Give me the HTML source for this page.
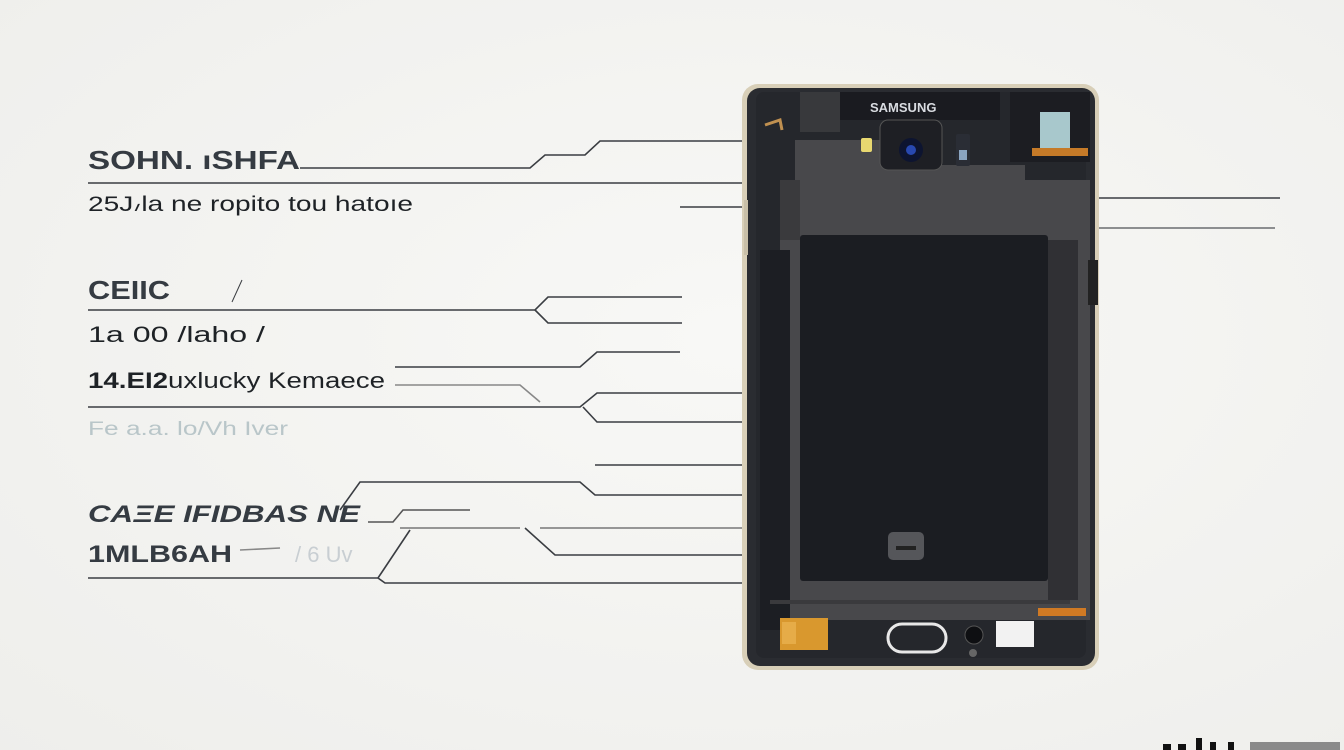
<!DOCTYPE html>
<html><head><meta charset="utf-8"><style>
html,body{margin:0;padding:0;width:1344px;height:750px;overflow:hidden;background:#f1f1ef}
svg{display:block}
text{font-family:"Liberation Sans",sans-serif}
</style></head><body>
<svg width="1344" height="750" viewBox="0 0 1344 750" xmlns="http://www.w3.org/2000/svg">
<defs>
<radialGradient id="bg" cx="0.55" cy="0.45" r="0.8"><stop offset="0" stop-color="#f8f8f6"/><stop offset="1" stop-color="#eeeeeb"/></radialGradient>
</defs>
<rect width="1344" height="750" fill="url(#bg)"/>

<g fill="none" stroke="#3a3d42" stroke-width="1.6">
<path d="M300,168 L530,168 L545,155 L585,155 L600,141 L745,141"/>
<path d="M88,183 L745,183"/>
<path d="M680,207 L745,207"/>
<path d="M1095,198 L1280,198"/>
<path d="M1095,228 L1275,228" stroke="#6a6d70"/>
<path d="M232,302 L242,280" stroke-width="1"/>
<path d="M88,310 L535,310 L548,297 L682,297"/>
<path d="M535,310 L548,323 L682,323"/>
<path d="M395,367 L580,367 L597,352 L680,352"/>
<path d="M395,385 L520,385 L540,402" stroke="#888"/>
<path d="M88,407 L580,407 L597,393 L745,393"/>
<path d="M583,407 L597,422 L745,422"/>
<path d="M595,465 L745,465"/>
<path d="M340,510 L360,482 L580,482 L595,495 L745,495"/>
<path d="M368,522 L393,522 L403,510 L470,510" stroke="#555"/>
<path d="M400,528 L520,528" stroke="#777"/>
<path d="M540,528 L745,528" stroke="#777"/>
<path d="M525,528 L555,555 L745,555"/>
<path d="M88,578 L378,578 L410,530" />
<path d="M378,578 L385,583 L745,583"/>
<path d="M240,550 L280,548" stroke="#888"/>
</g>

<g fill="#353b42">
<text x="88" y="169" font-size="26" font-weight="bold" textLength="212" lengthAdjust="spacingAndGlyphs">SOHN. ıSHFA</text>
<text x="88" y="211" font-size="21" fill="#1e2226" textLength="325" lengthAdjust="spacingAndGlyphs">25J៸la ne ropito tou hatoıe</text>
<text x="88" y="299" font-size="26" font-weight="bold" textLength="82" lengthAdjust="spacingAndGlyphs">CEIIC</text>
<text x="88" y="342" font-size="22" fill="#1e2226" textLength="177" lengthAdjust="spacingAndGlyphs">1a 00 /laho /</text>
<text x="88" y="388" font-size="22" fill="#1e2226" textLength="297" lengthAdjust="spacingAndGlyphs"><tspan font-weight="bold">14.EI2</tspan>uxlucky Kemaece</text>
<text x="88" y="435" font-size="19" fill="#b9c6c9" textLength="200" lengthAdjust="spacingAndGlyphs">Fe a.a. lo/Vh Iver</text>
<text x="88" y="522" font-size="24" font-weight="bold" font-style="italic" textLength="272" lengthAdjust="spacingAndGlyphs">CAΞE IFIDBAS NE</text>
<text x="88" y="562" font-size="24" font-weight="bold" textLength="144" lengthAdjust="spacingAndGlyphs">1MLB6AH</text>
<text x="295" y="562" font-size="22" fill="#c8ced2">/ 6 Uv</text>
</g>

<!-- phone -->
<rect x="742" y="84" width="357" height="586" rx="16" fill="#d8cfb8"/>
<rect x="747" y="88" width="348" height="578" rx="13" fill="#2a2c31"/>
<rect x="756" y="92" width="330" height="566" rx="8" fill="#25272c"/>
<path d="M795,140 L895,140 L895,165 L1025,165 L1025,180 L1090,180 L1090,620 L780,620 L780,240 L795,235 Z" fill="#48484b"/>
<rect x="780" y="180" width="20" height="60" fill="#3a3a3d"/>
<rect x="760" y="250" width="30" height="380" fill="#1c1e23"/>
<rect x="840" y="92" width="160" height="28" fill="#1a1b20"/>
<text x="870" y="112" font-size="13" font-weight="bold" fill="#d8dbe0">SAMSUNG</text>
<rect x="880" y="120" width="62" height="50" rx="8" fill="#1e1f24" stroke="#555" stroke-width="1"/>
<circle cx="911" cy="150" r="12" fill="#0d1430"/>
<circle cx="911" cy="150" r="5" fill="#2848b0"/>
<rect x="861" y="138" width="11" height="14" rx="2" fill="#e8d870"/>
<rect x="956" y="134" width="14" height="32" rx="2" fill="#2a2d35"/>
<rect x="959" y="150" width="8" height="10" fill="#8aa4c0"/>
<rect x="1010" y="92" width="80" height="70" fill="#1c1d22"/>
<rect x="1040" y="112" width="30" height="36" fill="#a8c8cc"/>
<rect x="1032" y="148" width="56" height="8" fill="#c57a28"/>
<rect x="800" y="92" width="40" height="40" fill="#38393c"/>
<path d="M765,125 L780,120 L782,130" stroke="#c09050" stroke-width="3" fill="none"/>
<rect x="800" y="235" width="248" height="346" rx="3" fill="#1b1d22"/>
<rect x="1048" y="240" width="30" height="360" fill="#303034"/>
<rect x="888" y="532" width="36" height="28" rx="5" fill="#55565a"/>
<rect x="896" y="546" width="20" height="4" fill="#222"/>
<rect x="770" y="600" width="300" height="4" fill="#3a3a3d"/>
<rect x="780" y="618" width="48" height="32" fill="#d9982e"/>
<rect x="782" y="622" width="14" height="22" fill="#e6ac48"/>
<rect x="888" y="624" width="58" height="28" rx="14" fill="none" stroke="#e8e8e8" stroke-width="3"/>
<circle cx="974" cy="635" r="9" fill="#0e0f12" stroke="#555"/>
<rect x="996" y="621" width="38" height="26" fill="#f2f2f2"/>
<rect x="1038" y="608" width="48" height="8" fill="#d07a24"/>
<circle cx="973" cy="653" r="4" fill="#666"/>
<rect x="1088" y="260" width="10" height="45" fill="#222"/>
<rect x="744" y="200" width="4" height="55" fill="#c8bfa8"/>
<g fill="#111">
<rect x="1163" y="744" width="8" height="6"/>
<rect x="1178" y="744" width="8" height="6"/>
<rect x="1196" y="738" width="6" height="12"/>
<rect x="1210" y="742" width="6" height="8"/>
<rect x="1228" y="742" width="6" height="8"/>
<rect x="1250" y="742" width="90" height="8" fill="#8a8a8a"/>
</g>
</svg>
</body></html>
